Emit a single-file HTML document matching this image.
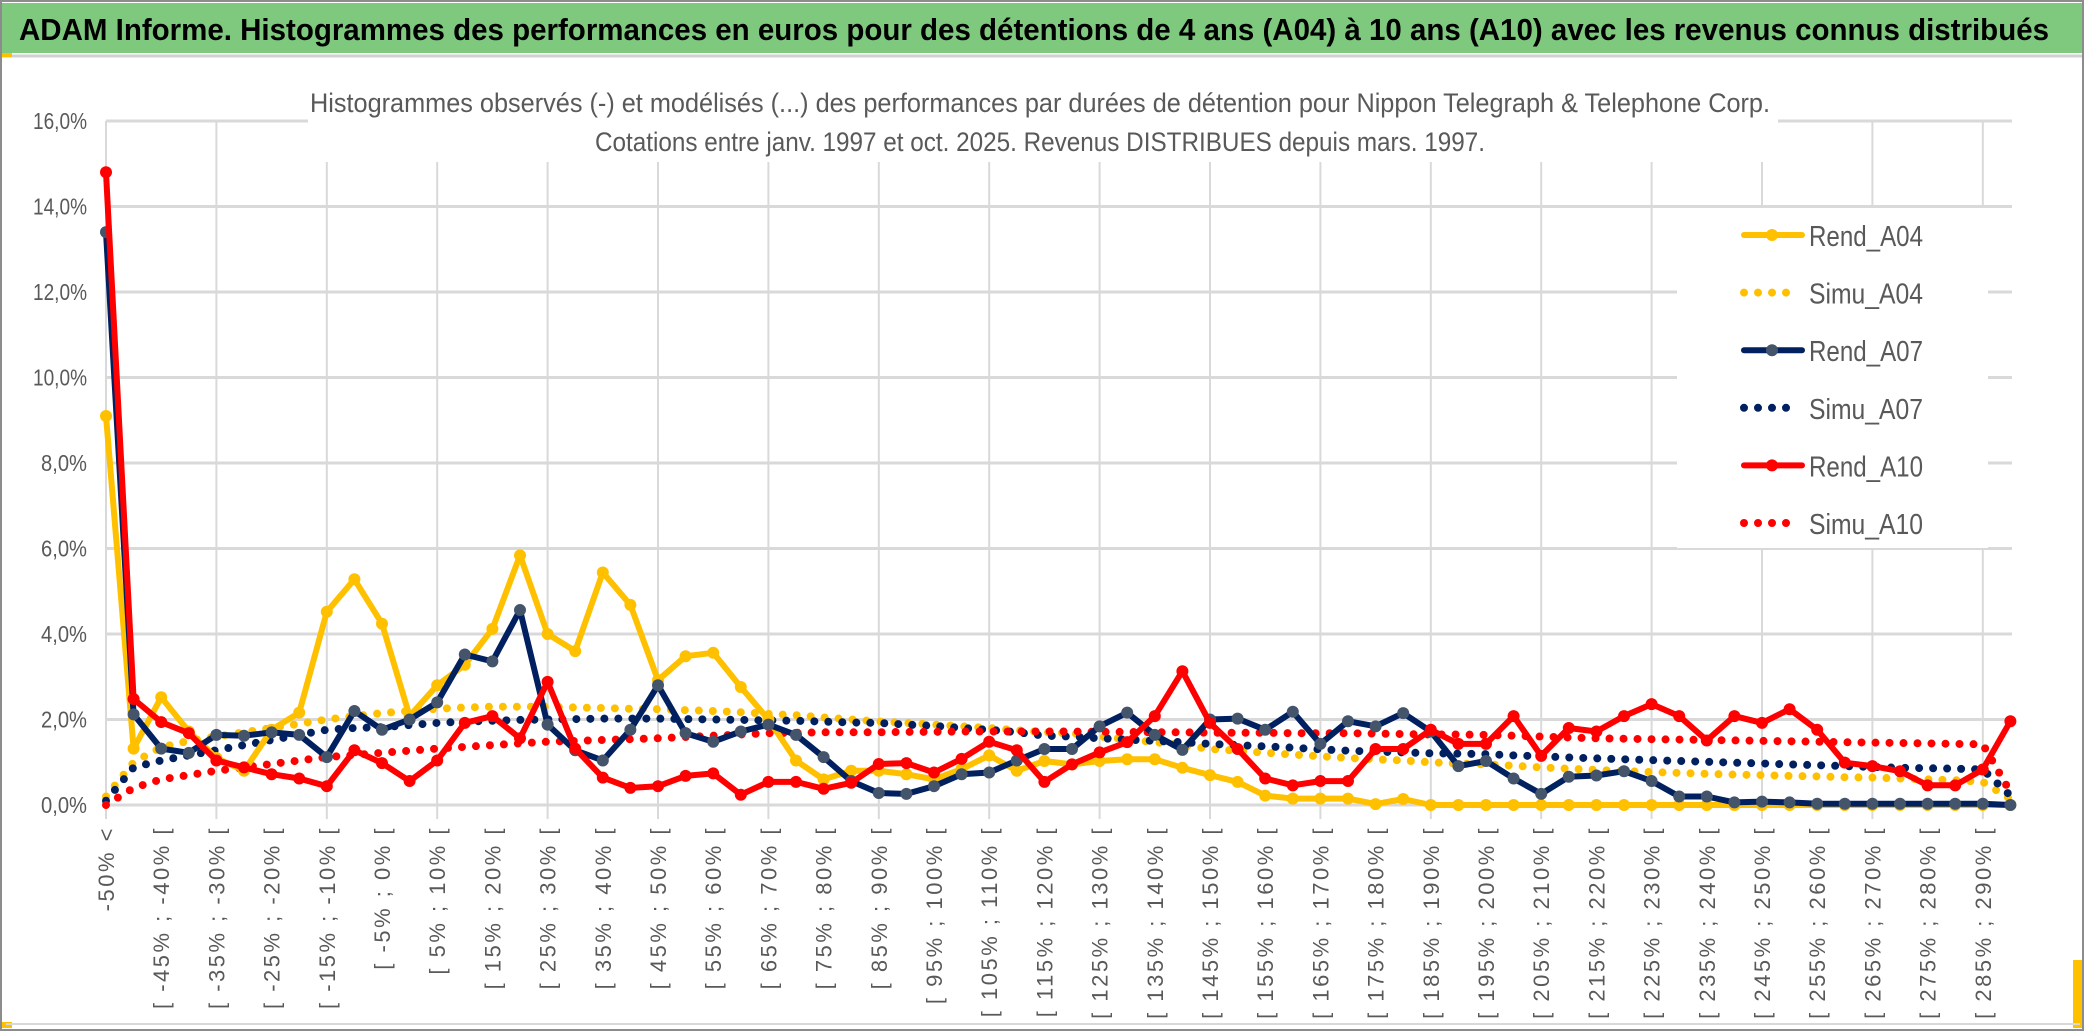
<!DOCTYPE html>
<html><head><meta charset="utf-8"><style>
html,body{margin:0;padding:0;background:#fff;}
svg{display:block;font-family:"Liberation Sans",sans-serif;}
</style></head><body>
<svg id="chart" width="2086" height="1033" viewBox="0 0 2086 1033" xmlns="http://www.w3.org/2000/svg">
<rect x="0" y="0" width="2086" height="1033" fill="#fff"/>
<rect x="1" y="1" width="2082" height="1029" fill="none" stroke="#8c8c8c" stroke-width="2"/>
<rect x="2" y="3" width="2080" height="50" fill="#7fc97f"/>
<text x="19" y="40" font-size="31" font-weight="bold" fill="#000" textLength="2030" lengthAdjust="spacingAndGlyphs">ADAM Informe. Histogrammes des performances en euros pour des détentions de 4 ans (A04) à 10 ans (A10) avec les revenus connus distribués</text>
<line x1="2" y1="56" x2="2082" y2="56" stroke="#d0d0d0" stroke-width="3"/>
<rect x="2" y="53" width="10" height="4" fill="#ffc000"/>
<rect x="2" y="1022" width="10" height="6" fill="#ffc000"/>
<rect x="2073" y="960" width="9" height="68" fill="#ffc000"/>
<line x1="6" y1="1024" x2="2080" y2="1024" stroke="#d9d9d9" stroke-width="2"/>
<g id="grid"></g>
<g id="yaxis"></g>
<g id="xaxis"></g>
<rect x="1677" y="208" width="311" height="340" fill="#fff"/>
<rect x="308" y="80" width="1470" height="82" fill="#fff"/>
<text x="1040" y="112" font-size="27" fill="#595959" text-anchor="middle" textLength="1460" lengthAdjust="spacingAndGlyphs">Histogrammes observés (-) et modélisés (...) des performances par durées de détention pour Nippon Telegraph &amp; Telephone Corp.</text>
<text x="1040" y="151" font-size="27" fill="#595959" text-anchor="middle" textLength="890" lengthAdjust="spacingAndGlyphs">Cotations entre janv. 1997 et oct. 2025. Revenus DISTRIBUES depuis mars. 1997.</text>
<g id="series"></g>
<g id="legend"></g>
</svg>
<script>
const rendA04 = [9.1,1.32,2.52,1.72,1.1,0.8,1.76,2.16,4.52,5.28,4.24,2.08,2.8,3.28,4.12,5.84,4.0,3.6,5.44,4.68,2.92,3.48,3.56,2.76,2.0,1.04,0.6,0.8,0.8,0.72,0.6,0.84,1.16,0.8,1.03,0.95,1.03,1.07,1.07,0.87,0.7,0.54,0.22,0.15,0.15,0.15,0.02,0.14,0.0,0.0,0.0,0.0,0.0,0.0,0.0,0.0,0.0,0.0,0.0,0.0,0.0,0.0,0.0,0.0,0.0,0.0,0.0,0.0,0.0,0.0];
const simuA04 = [0.2,1.0,1.35,1.5,1.6,1.7,1.8,1.9,2.0,2.08,2.15,2.2,2.25,2.28,2.3,2.3,2.3,2.28,2.27,2.25,2.24,2.22,2.2,2.17,2.13,2.1,2.05,2.0,1.95,1.92,1.88,1.84,1.8,1.75,1.7,1.68,1.6,1.54,1.47,1.4,1.31,1.27,1.22,1.18,1.14,1.1,1.07,1.04,1.0,0.97,0.95,0.92,0.88,0.85,0.82,0.79,0.77,0.75,0.73,0.71,0.7,0.68,0.67,0.65,0.64,0.62,0.6,0.58,0.54,0.14];
const rendA07 = [13.4,2.12,1.32,1.22,1.64,1.62,1.7,1.64,1.12,2.2,1.76,2.0,2.4,3.52,3.36,4.56,1.88,1.28,1.04,1.76,2.8,1.68,1.48,1.72,1.88,1.64,1.12,0.56,0.28,0.26,0.44,0.72,0.76,1.04,1.31,1.31,1.84,2.16,1.64,1.29,2.0,2.02,1.76,2.18,1.43,1.96,1.84,2.15,1.72,0.91,1.03,0.62,0.26,0.66,0.69,0.79,0.56,0.2,0.2,0.06,0.08,0.06,0.03,0.03,0.03,0.03,0.03,0.03,0.03,0.0];
const simuA07 = [0.1,0.88,1.04,1.16,1.28,1.4,1.52,1.64,1.76,1.8,1.82,1.87,1.92,1.95,1.97,1.99,2.0,2.01,2.02,2.02,2.02,2.01,2.0,1.99,1.98,1.97,1.95,1.93,1.92,1.88,1.85,1.8,1.76,1.7,1.62,1.6,1.56,1.53,1.5,1.47,1.43,1.4,1.37,1.34,1.3,1.27,1.25,1.23,1.21,1.2,1.19,1.16,1.14,1.11,1.09,1.07,1.05,1.03,1.01,0.99,0.97,0.95,0.93,0.91,0.89,0.87,0.86,0.85,0.83,0.22];
const rendA10 = [14.8,2.48,1.94,1.68,1.04,0.88,0.72,0.62,0.44,1.28,0.98,0.56,1.04,1.92,2.08,1.56,2.88,1.32,0.64,0.4,0.44,0.68,0.74,0.24,0.54,0.54,0.38,0.52,0.96,0.98,0.76,1.08,1.48,1.28,0.54,0.95,1.23,1.47,2.08,3.13,1.92,1.31,0.62,0.46,0.56,0.56,1.31,1.31,1.76,1.43,1.43,2.08,1.15,1.8,1.72,2.08,2.36,2.08,1.51,2.08,1.92,2.24,1.76,0.99,0.91,0.79,0.46,0.46,0.83,1.96];
const simuA10 = [0.0,0.4,0.6,0.7,0.8,0.88,0.96,1.04,1.12,1.17,1.22,1.27,1.32,1.36,1.4,1.44,1.48,1.5,1.52,1.54,1.56,1.59,1.62,1.65,1.68,1.69,1.7,1.7,1.7,1.71,1.71,1.72,1.72,1.72,1.72,1.72,1.71,1.71,1.7,1.7,1.69,1.69,1.69,1.68,1.68,1.68,1.67,1.66,1.65,1.65,1.64,1.62,1.6,1.58,1.56,1.55,1.54,1.53,1.52,1.51,1.5,1.49,1.48,1.47,1.46,1.45,1.44,1.43,1.42,0.3];
const yTicks = [0,2,4,6,8,10,12,14,16];
const yTickLabels = ["0,0%","2,0%","4,0%","6,0%","8,0%","10,0%","12,0%","14,0%","16,0%"];
const categories = ["-50% <"];
for (let k = 1; k < 70; k++) { categories.push("[ " + (-55 + 5*k) + "% ; " + (-50 + 5*k) + "% ["); }

const NS = "http://www.w3.org/2000/svg";
const X0 = 106, DX = 27.6, Y0 = 805, YTOP = 121, YMAX = 16, XR = 2012;
function xScale(i){ return X0 + i*DX; }
function yScale(v){ return Y0 - (v/YMAX)*(Y0-YTOP); }
function mk(tag, attrs, parent){ const e = document.createElementNS(NS, tag); for (const k in attrs) e.setAttribute(k, attrs[k]); parent.appendChild(e); return e; }

const grid = document.getElementById('grid');
yTicks.forEach(function(t){
  const l = mk('line', {x1:X0, x2:XR, y1:yScale(t), y2:yScale(t), stroke:'#d9d9d9', 'stroke-width':3}, grid);
  
  
});
for (let i = 0; i < categories.length; i += 4) {
  const l = mk('line', {x1:xScale(i), x2:xScale(i), y1:YTOP, y2:Y0+14, stroke:'#d9d9d9', 'stroke-width':2}, grid);
  
  
}
const yaxis = document.getElementById('yaxis');
yTicks.forEach(function(t, j){
  const tx = mk('text', {x:87, y:yScale(t)+8, 'font-size':23, fill:'#595959', 'text-anchor':'end', textLength: yTickLabels[j].length>4?54:46, lengthAdjust:'spacingAndGlyphs'}, yaxis);
  tx.textContent = yTickLabels[j];
  
  
});
const xaxis = document.getElementById('xaxis');
for (let i = 0; i < categories.length; i += 2) {
  const x = xScale(i) + 8, y = 826;
  const tx = mk('text', {x:x, y:y, 'font-size':22, fill:'#595959', 'text-anchor':'end', 'letter-spacing':'2.5', transform:'rotate(-90 '+x+' '+y+')'}, xaxis);
  tx.textContent = categories[i];
  
  
}
const series = document.getElementById('series');
function pts(arr){ return arr.map(function(v,i){ return xScale(i).toFixed(1)+','+yScale(v).toFixed(1); }).join(' '); }
function dotted(arr, color, name){
  const p = mk('polyline', {points:pts(arr), fill:'none', stroke:color, 'stroke-width':8, 'stroke-linecap':'round', 'stroke-dasharray':'0 14'}, series);
  
  
}
function solid(arr, color, mcolor, name){
  const p = mk('polyline', {points:pts(arr), fill:'none', stroke:color, 'stroke-width':6, 'stroke-linejoin':'round'}, series);
  
  
  arr.forEach(function(v,i){
    const c = mk('circle', {cx:xScale(i), cy:yScale(v), r:6, fill:mcolor}, series);
    
    
  });
}
dotted(simuA04, '#ffc000', 'simu-a04-line');
dotted(simuA07, '#002060', 'simu-a07-line');
dotted(simuA10, '#ff0000', 'simu-a10-line');
solid(rendA04, '#ffc000', '#ffc000', 'rend-a04-line');
solid(rendA07, '#002060', '#44546a', 'rend-a07-line');
solid(rendA10, '#ff0000', '#ff0000', 'rend-a10-line');

const legend = document.getElementById('legend');
const legendNames = ["Rend_A04","Simu_A04","Rend_A07","Simu_A07","Rend_A10","Simu_A10"];
const legendColors = ["#ffc000","#ffc000","#002060","#002060","#ff0000","#ff0000"];
const legendMarkers = ["#ffc000","","#44546a","","#ff0000",""];
legendNames.forEach(function(n, j){
  const y = 235 + j*57.6;
  const g = mk('g', {}, legend);
  
  
  if (legendMarkers[j]) {
    mk('line', {x1:1744, x2:1802, y1:y, y2:y, stroke:legendColors[j], 'stroke-width':6, 'stroke-linecap':'round'}, g);
    mk('circle', {cx:1772, cy:y, r:6, fill:legendMarkers[j]}, g);
  } else {
    mk('line', {x1:1744, x2:j==5?1800:1790, y1:y, y2:y, stroke:legendColors[j], 'stroke-width':8, 'stroke-linecap':'round', 'stroke-dasharray':'0 14'}, g);
  }
  const t = mk('text', {x:1809, y:y+11, 'font-size':29, fill:'#595959', textLength:114, lengthAdjust:'spacingAndGlyphs'}, g);
  t.textContent = n;
});
</script>
</body></html>
